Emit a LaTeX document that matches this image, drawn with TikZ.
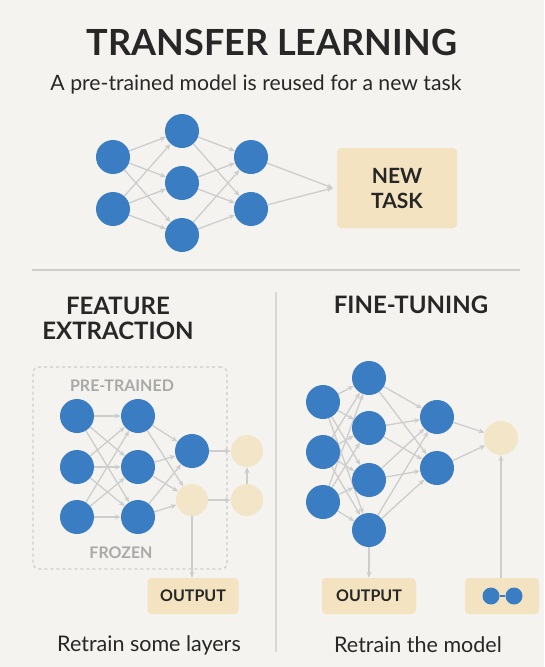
\documentclass[tikz,border=0pt]{standalone}
\usepackage{fontspec}
\setmainfont{Lato}
\usetikzlibrary{arrows.meta}
\definecolor{bgc}{HTML}{F4F3EF}
\definecolor{blu}{HTML}{3B7DC3}
\definecolor{tanbox}{HTML}{F3E3C0}
\definecolor{tanc}{HTML}{F2E5C8}
\definecolor{edgec}{HTML}{CDCDCD}
\definecolor{txt}{HTML}{272727}
\definecolor{gtxt}{HTML}{A9A9A9}
\pgfdeclarelayer{back}
\pgfdeclarelayer{edges}
\pgfsetlayers{back,edges,main}
\tikzset{
  bnode/.style={circle,fill=blu,inner sep=0,minimum size=34pt},
  tnode/.style={circle,fill=tanc,inner sep=0,minimum size=32pt},
  edge/.style={draw=edgec,line width=1.3pt,-{Stealth[length=6pt,width=5pt]}},
  tanbx/.style={fill=tanbox,rounded corners=4pt,inner sep=0,text=txt,font=\bfseries\fontsize{16}{18}\selectfont},
  head/.style={text=txt,font=\bfseries\fontsize{24}{28}\selectfont,align=center},
  glabel/.style={text=gtxt,font=\bfseries\fontsize{16}{18}\selectfont},
  caption/.style={text=txt,font=\fontsize{21.5}{24}\selectfont},
}
\begin{document}
\begin{tikzpicture}[x=1pt,y=-1pt]
\begin{pgfonlayer}{back}
\fill[bgc] (0,0) rectangle (544,667);
\end{pgfonlayer}
\useasboundingbox (0,0) rectangle (544,667);

% title
\node[text=txt,font=\bfseries\fontsize{36}{40}\selectfont] (title) at (272,42) {TRANSFER LEARNING};
\node[text=txt,font=\fontsize{21.2}{24}\selectfont] (sub) at (256,85) {A pre-trained model is reused for a new task};

% top network
\node[bnode] (t11) at (113,157) {};
\node[bnode] (t12) at (113,209) {};
\node[bnode] (t21) at (182,131) {};
\node[bnode] (t22) at (182,183) {};
\node[bnode] (t23) at (182,235) {};
\node[bnode] (t31) at (251,157) {};
\node[bnode] (t32) at (251,209) {};
\coordinate (tc) at (333,188);
\node[tanbx,minimum width=120pt,minimum height=80pt,align=center,font=\bfseries\fontsize{21}{25}\selectfont] (newtask) at (397,188) {NEW\\TASK};
\begin{pgfonlayer}{edges}
\foreach \i in {1,2}{\foreach \j in {1,2,3}{\draw[edge] (t1\i) -- (t2\j);}}
\foreach \i in {1,2,3}{\foreach \j in {1,2}{\draw[edge] (t2\i) -- (t3\j);}}
\draw[edge] (t31) -- (tc);
\draw[edge] (t32) -- (tc);
\end{pgfonlayer}

% dividers
\coordinate (hl) at (32,270);
\coordinate (hr) at (520,270);
\draw[edgec,line width=1.5pt] (hl) -- (hr);
\coordinate (vt) at (276,292);
\coordinate (vb) at (276,652);
\draw[edgec!80!white,line width=1.5pt] (vt) -- (vb);

% left panel
\node[head] (fe) at (118,318) {FEATURE\\[-3pt]EXTRACTION};
\node[draw=edgec,dashed,line width=1.2pt,rounded corners=6pt,minimum width=194pt,minimum height=202pt,inner sep=0] (frozenbox) at (130,468) {};
\node[glabel] (pt) at (122,386) {PRE-TRAINED};
\node[glabel] (fr) at (121,553) {FROZEN};
\node[bnode] (l11) at (77,416) {};
\node[bnode] (l12) at (77,467) {};
\node[bnode] (l13) at (77,517) {};
\node[bnode] (l21) at (138,416) {};
\node[bnode] (l22) at (138,467) {};
\node[bnode] (l23) at (138,517) {};
\node[bnode] (l31) at (192,451) {};
\node[tnode] (l32) at (192,500) {};
\node[tnode] (l41) at (247,451) {};
\node[tnode] (l42) at (247,500) {};
\node[tanbx,minimum width=91pt,minimum height=36pt] (outl) at (193,596) {OUTPUT};
\node[caption] (capl) at (149,645) {Retrain some layers};
\begin{pgfonlayer}{edges}
\foreach \i in {1,2,3}{\foreach \j in {1,2,3}{\draw[edge] (l1\i) -- (l2\j);}}
\foreach \i in {1,2,3}{\foreach \j in {1,2}{\draw[edge] (l2\i) -- (l3\j);}}
\draw[edge] (l31) -- (l41);
\draw[edge] (l32) -- (l42);
\draw[edge] (l42) -- (l41);
\draw[edge] (l32) -- (l32 |- outl.north);
\end{pgfonlayer}

% right panel
\node[head] (ft) at (411,305) {FINE-TUNING};
\node[bnode] (r11) at (323,402) {};
\node[bnode] (r12) at (323,452) {};
\node[bnode] (r13) at (323,502) {};
\node[bnode] (r21) at (369,378) {};
\node[bnode] (r22) at (369,428) {};
\node[bnode] (r23) at (369,480) {};
\node[bnode] (r24) at (369,530) {};
\node[bnode] (r31) at (437,417) {};
\node[bnode] (r32) at (437,468) {};
\node[tnode,minimum size=34pt] (r41) at (501,438) {};
\node[tanbx,minimum width=94pt,minimum height=36pt] (outr) at (369,596) {OUTPUT};
\node[tanbx,minimum width=74pt,minimum height=36pt] (dots) at (502,596) {};
\node[circle,fill=blu,inner sep=0,minimum size=17pt] (d1) at (491,596) {};
\node[circle,fill=blu,inner sep=0,minimum size=17pt] (d2) at (514,596) {};
\draw[blu,line width=2pt] (d1) -- (d2);
\node[caption] (capr) at (418,645) {Retrain the model};
\begin{pgfonlayer}{edges}
\foreach \i in {1,2,3}{\foreach \j in {1,2,3,4}{\draw[edge] (r1\i) -- (r2\j);}}
\foreach \i in {1,2,3,4}{\foreach \j in {1,2}{\draw[edge] (r2\i) -- (r3\j);}}
\draw[edge] (r31) -- (r41);
\draw[edge] (r32) -- (r41);
\draw[edge] (r24) -- (outr);
\draw[edge] (dots.north -| r41) -- (r41);
\end{pgfonlayer}
\end{tikzpicture}
\end{document}
